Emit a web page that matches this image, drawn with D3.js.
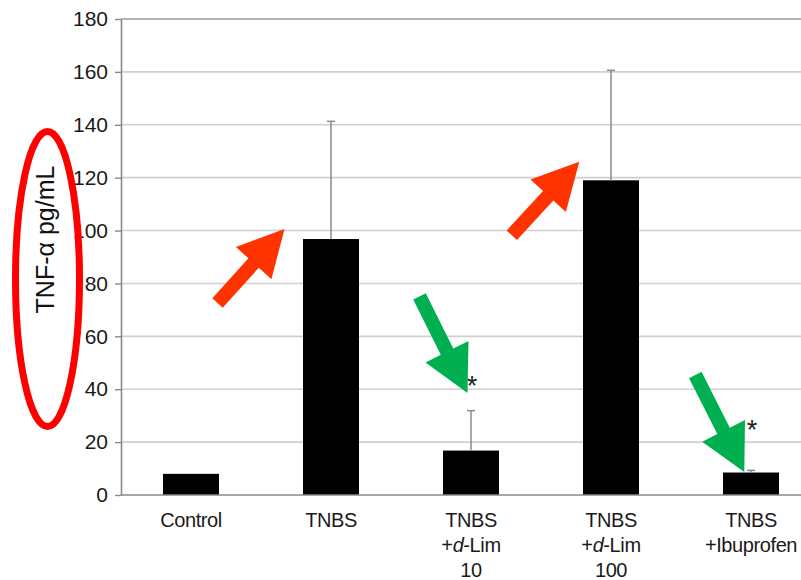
<!DOCTYPE html>
<html>
<head>
<meta charset="utf-8">
<script src="https://cdn.jsdelivr.net/npm/d3@7"></script>
<style>
  html, body { margin: 0; padding: 0; background: #fff; }
  svg { display: block; }
</style>
</head>
<body>
<svg id="chart" width="801" height="580"></svg>
<script>
// ---- data ----
const categories = ["Control", "TNBS", "TNBS +d-Lim 10", "TNBS +d-Lim 100", "TNBS +Ibuprofen"];
const categoryLines = [["Control"], ["TNBS"], ["TNBS", "+d-Lim", "10"], ["TNBS", "+d-Lim", "100"], ["TNBS", "+Ibuprofen"]];
const values = [8, 96.8, 16.8, 119, 8.5];
const errors = [0, 44.5, 15.1, 41.6, 0.8];
const significance = ["", "", "*", "", "*"];
const sigLevel = [null, null, 43.5, null, 27];
const yTicks = [0, 20, 40, 60, 80, 100, 120, 140, 160, 180];
const yLabel = "TNF-\u03b1 pg/mL";
// annotation arrows: category index, tip offset (px from band centre), tip value, vector tail->tip (px), colour
const arrowCats = [1, 3, 2, 4];
const arrowTipDx = [-46.5, -31.7, -3.5, -6.7];
const arrowTipVal = [100.6, 126, 38.6, 8.7];
const arrowVec = [[67, -74], [67.5, -73.5], [48, 96.5], [49, 97]];
const arrowColors = ["#ff3300", "#ff3300", "#00b050", "#00b050"];

// ---- scales ----
const svg = d3.select("#chart");
const x = d3.scaleBand().domain(d3.range(categories.length)).range([121, 821]).padding(0);
const y = d3.scaleLinear().domain([0, 180]).range([495, 19]);
const barW = x.bandwidth() * 0.4;
const cx = i => x(i) + x.bandwidth() / 2;

// gridlines
svg.append("g").selectAll("line").data(yTicks.filter(t => t > 0)).join("line")
  .attr("x1", 121).attr("x2", 801)
  .attr("y1", d => y(d)).attr("y2", d => y(d))
  .attr("stroke", d => d === 180 ? "#9a9a9a" : "#d0d0d0")
  .attr("stroke-width", 1.6);

// y axis
const yAxis = svg.append("g").attr("transform", "translate(121,0)")
  .call(d3.axisLeft(y).tickValues(yTicks).tickSize(6).tickPadding(7).tickSizeOuter(0));
yAxis.select(".domain").attr("stroke", "#888").attr("stroke-width", 1.6);
yAxis.selectAll(".tick line").attr("stroke", "#888").attr("stroke-width", 1.4);
yAxis.selectAll(".tick text")
  .attr("font-family", "'Liberation Sans', Arial, sans-serif")
  .attr("font-size", 21).attr("fill", "#1a1a1a");

// bars
svg.append("g").selectAll("rect").data(values).join("rect")
  .attr("x", (d, i) => cx(i) - barW / 2)
  .attr("width", barW)
  .attr("y", d => y(d))
  .attr("height", d => y(0) - y(d))
  .attr("fill", "#000");

// error bars
const eg = svg.append("g").attr("stroke", "#8a8a8a").attr("stroke-width", 1.5);
values.forEach((v, i) => {
  if (!errors[i]) return;
  eg.append("line").attr("x1", cx(i)).attr("x2", cx(i)).attr("y1", y(v)).attr("y2", y(v + errors[i]));
  eg.append("line").attr("x1", cx(i) - 4).attr("x2", cx(i) + 4).attr("y1", y(v + errors[i])).attr("y2", y(v + errors[i]));
});

// x axis line
svg.append("line").attr("x1", 121).attr("x2", 801).attr("y1", y(0)).attr("y2", y(0))
  .attr("stroke", "#888").attr("stroke-width", 1.6);

// category labels
const xl = svg.append("g").attr("font-family", "'Liberation Sans', Arial, sans-serif")
  .attr("font-size", 20).attr("fill", "#1a1a1a").attr("text-anchor", "middle").attr("letter-spacing", -0.4);
categoryLines.forEach((lines, i) => {
  lines.forEach((ln, j) => {
    const t = xl.append("text").attr("x", cx(i)).attr("y", 527 + j * 25);
    const m = ln.match(/^\+d(-.*)$/);
    if (m) {
      t.append("tspan").text("+");
      t.append("tspan").attr("font-style", "italic").text("d");
      t.append("tspan").text(m[1]);
    } else {
      t.text(ln);
    }
  });
});

// significance asterisks
const sigData = significance.map((s, i) => ({ s, i, v: sigLevel[i] })).filter(d => d.s);
svg.append("g").selectAll("text").data(sigData).join("text")
  .attr("x", d => cx(d.i) + 1)
  .attr("y", d => y(d.v) + 15)
  .attr("text-anchor", "middle")
  .attr("font-family", "'Liberation Sans', Arial, sans-serif")
  .attr("font-size", 27).attr("fill", "#222")
  .text(d => d.s);

// y label
svg.append("text")
  .attr("transform", "translate(54,239.5) rotate(-90)")
  .attr("text-anchor", "middle")
  .attr("font-family", "'Liberation Sans', Arial, sans-serif")
  .attr("font-size", 25).attr("fill", "#111")
  .text(yLabel);

// red ellipse annotation
svg.append("ellipse").attr("cx", 47.5).attr("cy", 279).attr("rx", 32).attr("ry", 147.5)
  .attr("fill", "none").attr("stroke", "#ff0000").attr("stroke-width", 7);

// arrows
function arrowPath(tail, tip, shaftW, headW, headL) {
  const dx = tip[0] - tail[0], dy = tip[1] - tail[1];
  const L = Math.hypot(dx, dy);
  const ux = dx / L, uy = dy / L, px = -uy, py = ux;
  const bx = tip[0] - ux * headL, by = tip[1] - uy * headL;
  const pts = [
    [tail[0] + px * shaftW / 2, tail[1] + py * shaftW / 2],
    [bx + px * shaftW / 2, by + py * shaftW / 2],
    [bx + px * headW / 2, by + py * headW / 2],
    tip,
    [bx - px * headW / 2, by - py * headW / 2],
    [bx - px * shaftW / 2, by - py * shaftW / 2],
    [tail[0] - px * shaftW / 2, tail[1] - py * shaftW / 2]
  ];
  return "M" + pts.map(p => p.join(",")).join("L") + "Z";
}
arrowCats.forEach((c, k) => {
  const tip = [cx(c) + arrowTipDx[k], y(arrowTipVal[k])];
  const tail = [tip[0] - arrowVec[k][0], tip[1] - arrowVec[k][1]];
  svg.append("path").attr("d", arrowPath(tail, tip, 14, 48, 46)).attr("fill", arrowColors[k]);
});
</script>
</body>
</html>
